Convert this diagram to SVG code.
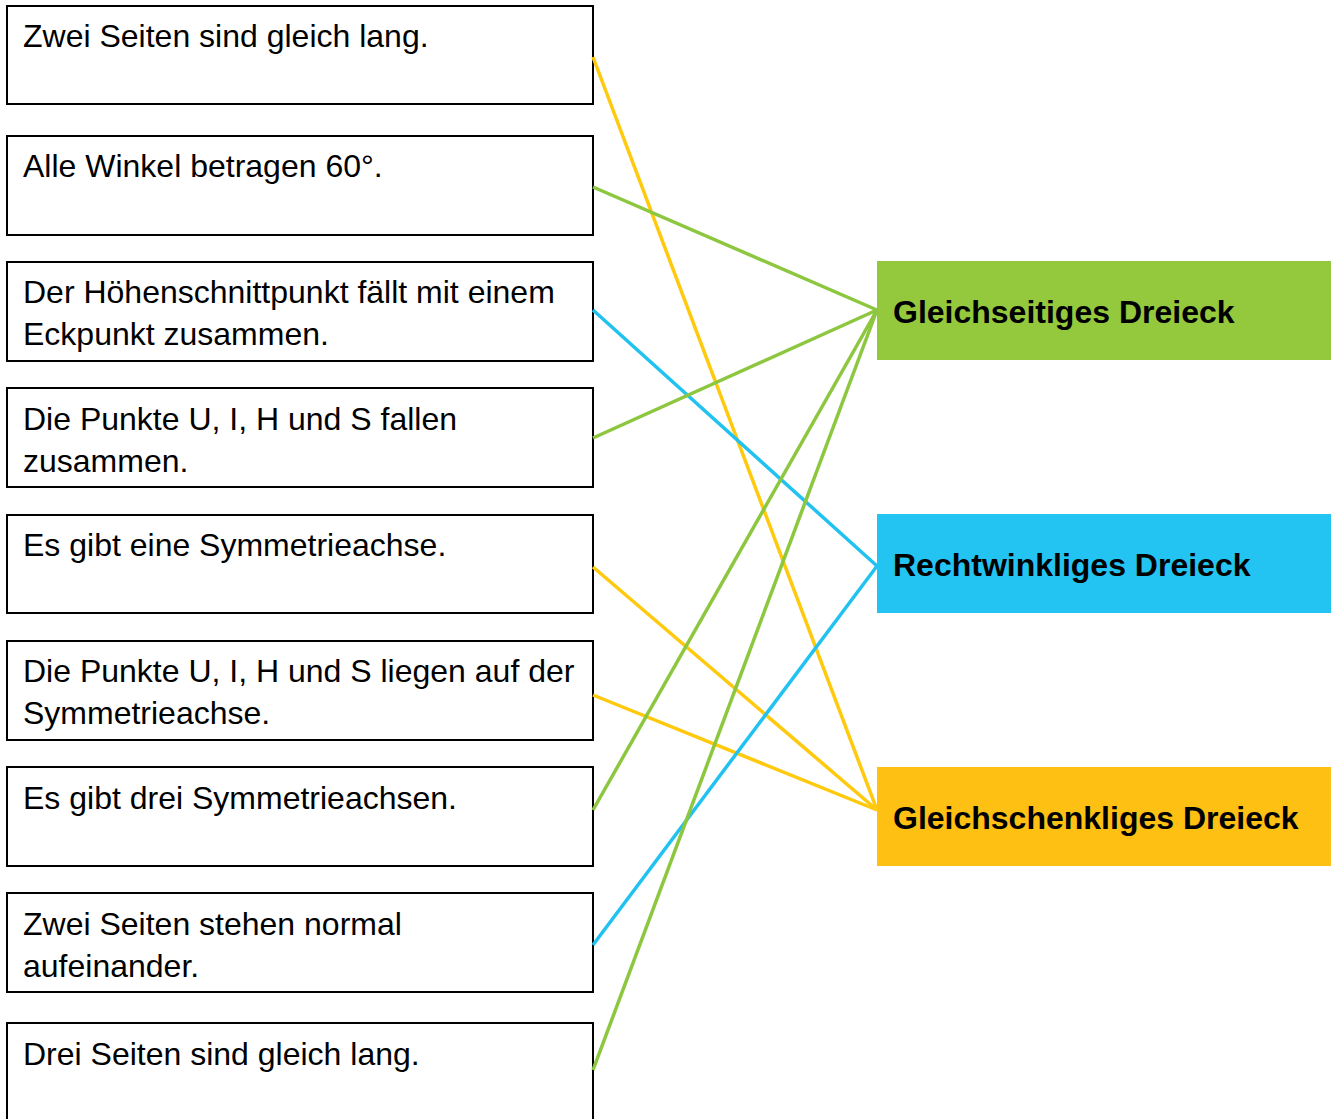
<svg xmlns="http://www.w3.org/2000/svg" width="1336" height="1119" viewBox="0 0 1336 1119">
<style>
.box{fill:#fff;stroke:#000;stroke-width:2}
.t{font-family:"Liberation Sans",Arial,sans-serif;font-size:32px;fill:#000}
.b{font-family:"Liberation Sans",Arial,sans-serif;font-size:32px;font-weight:bold;fill:#000}
.c{fill:none;stroke-width:3.5}
.g{stroke:#8DC63F}.bl{stroke:#22C2F0}.y{stroke:#FFC90E}
</style>
<rect width="1336" height="1119" fill="#fff"/>
<g id="s1"><rect class="box" x="7" y="6" width="586" height="98"/><text class="t" x="23" y="47">Zwei Seiten sind gleich lang.</text></g>
<g id="s2"><rect class="box" x="7" y="136" width="586" height="99"/><text class="t" x="23" y="177">Alle Winkel betragen 60°.</text></g>
<g id="s3"><rect class="box" x="7" y="262" width="586" height="99"/><text class="t" x="23" y="303">Der Höhenschnittpunkt fällt mit einem</text><text class="t" x="23" y="345">Eckpunkt zusammen.</text></g>
<g id="s4"><rect class="box" x="7" y="388" width="586" height="99"/><text class="t" x="23" y="430">Die Punkte U, I, H und S fallen</text><text class="t" x="23" y="472">zusammen.</text></g>
<g id="s5"><rect class="box" x="7" y="515" width="586" height="98"/><text class="t" x="23" y="556">Es gibt eine Symmetrieachse.</text></g>
<g id="s6"><rect class="box" x="7" y="641" width="586" height="99"/><text class="t" x="23" y="682">Die Punkte U, I, H und S liegen auf der</text><text class="t" x="23" y="724">Symmetrieachse.</text></g>
<g id="s7"><rect class="box" x="7" y="767" width="586" height="99"/><text class="t" x="23" y="809">Es gibt drei Symmetrieachsen.</text></g>
<g id="s8"><rect class="box" x="7" y="893" width="586" height="99"/><text class="t" x="23" y="935">Zwei Seiten stehen normal</text><text class="t" x="23" y="977">aufeinander.</text></g>
<g id="s9"><rect class="box" x="7" y="1023" width="586" height="110"/><text class="t" x="23" y="1065">Drei Seiten sind gleich lang.</text></g>
<g id="gleichseitig"><rect x="877" y="261" width="454" height="99" fill="#94C83D"/><text class="b" x="893" y="323">Gleichseitiges Dreieck</text></g>
<g id="rechtwinklig"><rect x="877" y="514" width="454" height="99" fill="#23C4F2"/><text class="b" x="893" y="576">Rechtwinkliges Dreieck</text></g>
<g id="gleichschenklig"><rect x="877" y="767" width="454" height="99" fill="#FDC013"/><text class="b" x="893" y="829">Gleichschenkliges Dreieck</text></g>
<g id="connectors">
<line class="c y" x1="593" y1="57" x2="877" y2="810"/>
<line class="c g" x1="593" y1="187" x2="877" y2="310"/>
<line class="c bl" x1="593" y1="310" x2="877" y2="566"/>
<line class="c g" x1="593" y1="438" x2="877" y2="310"/>
<line class="c y" x1="593" y1="567" x2="877" y2="810"/>
<line class="c y" x1="593" y1="695" x2="877" y2="810"/>
<line class="c g" x1="593" y1="810" x2="877" y2="310"/>
<line class="c bl" x1="593" y1="945" x2="877" y2="566"/>
<line class="c g" x1="593" y1="1070" x2="877" y2="310"/>
</g>
</svg>
